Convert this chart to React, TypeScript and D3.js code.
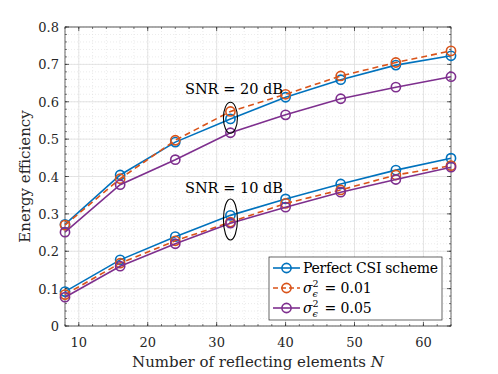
import React from 'react'
import * as d3 from 'd3'

const elements = [8, 16, 24, 32, 40, 48, 56, 64]
const perfect20 = [0.272, 0.404, 0.492, 0.554, 0.612, 0.659, 0.698, 0.723]
const err01_20 = [0.27, 0.394, 0.497, 0.574, 0.62, 0.669, 0.705, 0.736]
const err05_20 = [0.251, 0.378, 0.445, 0.517, 0.565, 0.608, 0.639, 0.667]
const perfect10 = [0.092, 0.177, 0.239, 0.296, 0.34, 0.38, 0.417, 0.449]
const err01_10 = [0.084, 0.168, 0.228, 0.278, 0.328, 0.364, 0.404, 0.429]
const err05_10 = [0.077, 0.16, 0.22, 0.275, 0.318, 0.358, 0.392, 0.425]
const xTicks = [10, 20, 30, 40, 50, 60]
const yTicks = [0, 0.1, 0.2, 0.3, 0.4, 0.5, 0.6, 0.7, 0.8]
const seriesNames = ['Perfect CSI scheme', '0.01', '0.05']
const seriesColors = ['#0072BD', '#D95319', '#7E2F8E']

const series = [
  { name: seriesNames[0], color: seriesColors[0], dash: null, groups: [perfect20, perfect10] },
  { name: seriesNames[1], color: seriesColors[1], dash: '6,4', groups: [err01_20, err01_10] },
  { name: seriesNames[2], color: seriesColors[2], dash: null, groups: [err05_20, err05_10] },
]

const W = 498
const H = 374
const m = { left: 65, right: 47, top: 27, bottom: 48 }
const font = '"DejaVu Serif", "Liberation Serif", serif'

export default function App() {
  const x = d3.scaleLinear().domain([8, 64]).range([m.left, W - m.right])
  const y = d3.scaleLinear().domain([0, 0.8]).range([H - m.bottom, m.top])
  const [x0, x1] = x.range()
  const [y0, y1] = y.range()
  const line = d3
    .line<number>()
    .x((_, i) => x(elements[i]))
    .y((d) => y(d))

  const xMinor = d3.range(8, 65, 2)
  const yMinor = d3.range(0, 0.801, 0.02)
  const grid = '#dedede'
  const axisCol = '#262626'

  return (
    <svg width={W} height={H} style={{ position: 'absolute', left: 0, top: 0, background: '#fff' }} fontFamily={font}>
      <rect x={x0} y={y1} width={x1 - x0} height={y0 - y1} fill="#fff" />
      {/* minor grid */}
      {xMinor.map((v) => (
        <line key={'xm' + v} x1={x(v)} x2={x(v)} y1={y0} y2={y1} stroke={grid} strokeWidth={0.6} strokeDasharray="1,2" />
      ))}
      {yMinor.map((v, i) => (
        <line key={'ym' + i} x1={x0} x2={x1} y1={y(v)} y2={y(v)} stroke={grid} strokeWidth={0.6} strokeDasharray="1,2" />
      ))}
      {/* major grid */}
      {xTicks.map((v) => (
        <line key={'xg' + v} x1={x(v)} x2={x(v)} y1={y0} y2={y1} stroke={grid} strokeWidth={0.8} />
      ))}
      {yTicks.map((v) => (
        <line key={'yg' + v} x1={x0} x2={x1} y1={y(v)} y2={y(v)} stroke={grid} strokeWidth={0.8} />
      ))}
      {/* ticks */}
      {xMinor.map((v) => (
        <g key={'xt' + v} stroke={axisCol} strokeWidth={0.6}>
          <line x1={x(v)} x2={x(v)} y1={y0} y2={y0 - 2} />
          <line x1={x(v)} x2={x(v)} y1={y1} y2={y1 + 2} />
        </g>
      ))}
      {yMinor.map((v, i) => (
        <g key={'yt' + i} stroke={axisCol} strokeWidth={0.6}>
          <line x1={x0} x2={x0 + 2} y1={y(v)} y2={y(v)} />
          <line x1={x1} x2={x1 - 2} y1={y(v)} y2={y(v)} />
        </g>
      ))}
      {xTicks.map((v) => (
        <g key={'xT' + v} stroke={axisCol} strokeWidth={0.7}>
          <line x1={x(v)} x2={x(v)} y1={y0} y2={y0 - 4} />
          <line x1={x(v)} x2={x(v)} y1={y1} y2={y1 + 4} />
        </g>
      ))}
      {yTicks.map((v) => (
        <g key={'yT' + v} stroke={axisCol} strokeWidth={0.7}>
          <line x1={x0} x2={x0 + 4} y1={y(v)} y2={y(v)} />
          <line x1={x1} x2={x1 - 4} y1={y(v)} y2={y(v)} />
        </g>
      ))}
      <rect x={x0} y={y1} width={x1 - x0} height={y0 - y1} fill="none" stroke={axisCol} strokeWidth={0.7} />
      {/* tick labels */}
      {xTicks.map((v) => (
        <text key={'xl' + v} x={x(v)} y={y0 + 21} textAnchor="middle" fontSize={13} fill="#262626">
          {v}
        </text>
      ))}
      {yTicks.map((v) => (
        <text key={'yl' + v} x={x0 - 6} y={y(v) + 5} textAnchor="end" fontSize={13} fill="#262626">
          {v}
        </text>
      ))}
      <text x={(x0 + x1) / 2} y={367} textAnchor="middle" fontSize={15} fill="#262626">
        Number of reflecting elements <tspan fontStyle="italic">N</tspan>
      </text>
      <text transform={`translate(30,${(y0 + y1) / 2}) rotate(-90)`} textAnchor="middle" fontSize={15} fill="#262626">
        Energy efficiency
      </text>
      {/* series */}
      {series.map((s) =>
        s.groups.map((g, gi) => (
          <g key={s.name + gi}>
            <path d={line(g) || ''} fill="none" stroke={s.color} strokeWidth={1.6} strokeDasharray={s.dash || undefined} />
            {g.map((v, i) => (
              <circle key={i} cx={x(elements[i])} cy={y(v)} r={4.6} fill="none" stroke={s.color} strokeWidth={1.6} />
            ))}
          </g>
        ))
      )}
      {/* annotations */}
      <ellipse cx={x(32)} cy={y(0.557)} rx={7} ry={15.5} fill="none" stroke="#000" strokeWidth={1.1} />
      <ellipse cx={x(32)} cy={y(0.285)} rx={7} ry={20.5} fill="none" stroke="#000" strokeWidth={1.1} />
      <text x={185} y={93.5} fontSize={14.5} fill="#000">
        SNR = 20 dB
      </text>
      <text x={185} y={193} fontSize={14.5} fill="#000">
        SNR = 10 dB
      </text>
      {/* legend */}
      <g>
        <rect x={269} y={257} width={173} height={63} fill="#fff" stroke={axisCol} strokeWidth={0.7} />
        {series.map((s, i) => {
          const ly = 268 + i * 20
          return (
            <g key={'lg' + i}>
              <line x1={273} x2={300} y1={ly} y2={ly} stroke={s.color} strokeWidth={1.6} strokeDasharray={s.dash ? '5,3' : undefined} />
              <circle cx={286.5} cy={ly} r={4.6} fill="none" stroke={s.color} strokeWidth={1.6} />
              {i === 0 ? (
                <text x={303} y={ly + 5} fontSize={14} fill="#000" textLength={135}>
                  {s.name}
                </text>
              ) : (
                <text x={303} y={ly + 5} fontSize={14} fill="#000">
                  <tspan fontStyle="italic">σ</tspan>
                  <tspan fontSize={9.5} dy={-6}>2</tspan>
                  <tspan fontSize={9.5} dx={-6} dy={10} fontStyle="italic">ϵ</tspan>
                  <tspan dy={-4} dx={2}>{' = ' + s.name}</tspan>
                </text>
              )}
            </g>
          )
        })}
      </g>
    </svg>
  )
}
